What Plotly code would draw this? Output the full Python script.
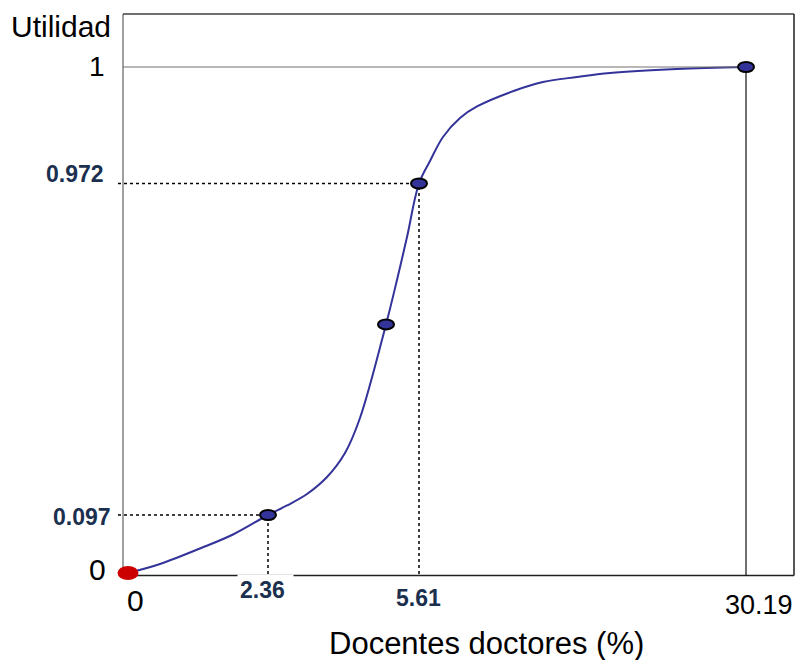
import numpy as np
import plotly.graph_objects as go

# ---------------- data ----------------
curve_x = [0, 0.539, 1.214, 1.770, 2.36, 2.769, 3.199, 3.630, 4.017, 4.340,
           4.900, 5.136, 5.352, 5.61, 6.437, 7.414, 8.692, 9.970, 12.826,
           14.93, 17.49, 19.97, 25.00, 30.19]
curve_y = [0, 0.0151, 0.0410, 0.0644, 0.097, 0.1221, 0.1524, 0.1973, 0.2607, 0.3530,
           0.600, 0.7173, 0.8308, 0.972, 0.97741, 0.98318, 0.98774, 0.99051, 0.99435,
           0.99639, 0.99760, 0.99856, 0.99952, 1.0]
point_x = [2.36, 4.90, 5.61, 30.19]
point_y = [0.097, 0.600, 0.972, 1.0]
origin_x = [0]
origin_y = [0]
guide_x = [2.36, 5.61]
guide_y = [0.097, 0.972]
x_tick_vals = [0, 2.36, 5.61, 30.19]
x_tick_text = ["0", "2.36", "5.61", "30.19"]
y_tick_vals = [0, 0.097, 0.972, 1]
y_tick_text = ["0", "0.097", "0.972", "1"]
x_title = "Docentes doctores (%)"
y_title = "Utilidad"

# ---------------- schematic (non-linear) axis scale ----------------
X_KNOT_VAL = [0, 2.36, 5.61, 30.19]
X_KNOT_POS = [0, 140, 291, 618]
Y_KNOT_VAL = [0, 0.097, 0.972, 1.0]
Y_KNOT_POS = [0, 58, 389.5, 506]
# axes cover the whole canvas (1 unit = 1 px); frame drawn inside
X_RANGE = [-128, 667]
Y_RANGE = [-87, 573]
FRAME = dict(left=-5, right=666, bottom=-2.5, top=559)


def xs(v):
    return np.interp(v, X_KNOT_VAL, X_KNOT_POS)


def ys(v):
    return np.interp(v, Y_KNOT_VAL, Y_KNOT_POS)


FONT = "Arial, 'Liberation Sans', sans-serif"
NAVY = "#1b2f4f"
BLUE = "#333399"

fig = go.Figure()
fig.add_trace(go.Scatter(x=xs(curve_x), y=ys(curve_y), mode="lines",
                         line=dict(color=BLUE, width=2, shape="spline", smoothing=1.0),
                         hoverinfo="skip", showlegend=False))

L, R, B, T = FRAME["left"], FRAME["right"], FRAME["bottom"], FRAME["top"]
shapes = []
# dotted guides
for gx, gy in zip(guide_x, guide_y):
    shapes.append(dict(type="line", xref="x", yref="y", x0=L - 5, x1=float(xs(gx)),
                       y0=float(ys(gy)), y1=float(ys(gy)),
                       line=dict(color="black", width=1.5, dash="dot")))
    shapes.append(dict(type="line", xref="x", yref="y", x0=float(xs(gx)), x1=float(xs(gx)),
                       y0=float(ys(0)) - 1, y1=float(ys(gy)),
                       line=dict(color="black", width=1.5, dash="dot")))
# frame
shapes += [
    dict(type="line", xref="x", yref="y", x0=L, x1=L, y0=B, y1=T,
         line=dict(color="#808080", width=1.5)),
    dict(type="line", xref="x", yref="y", x0=L, x1=R, y0=T, y1=T,
         line=dict(color="#404040", width=1.5)),
    dict(type="line", xref="x", yref="y", x0=R, x1=R, y0=B, y1=T,
         line=dict(color="#202020", width=1.5)),
    dict(type="line", xref="x", yref="y", x0=L, x1=R, y0=B, y1=B,
         line=dict(color="#202020", width=1.5)),
    # utility = 1 level and max-x line
    dict(type="line", xref="x", yref="y", x0=L, x1=float(xs(30.19)),
         y0=float(ys(1)), y1=float(ys(1)), line=dict(color="#707070", width=1.2)),
    dict(type="line", xref="x", yref="y", x0=float(xs(30.19)), x1=float(xs(30.19)),
         y0=B, y1=float(ys(1)), line=dict(color="#101010", width=1.2)),
]
# ellipse markers
for px, py in zip(point_x, point_y):
    shapes.append(dict(type="circle", xref="x", yref="y", xsizemode="pixel", ysizemode="pixel",
                       xanchor=float(xs(px)), yanchor=float(ys(py)),
                       x0=-8, x1=8, y0=-5, y1=5,
                       fillcolor=BLUE, line=dict(color="black", width=2)))
for px, py in zip(origin_x, origin_y):
    shapes.append(dict(type="circle", xref="x", yref="y", xsizemode="pixel", ysizemode="pixel",
                       xanchor=float(xs(px)), yanchor=float(ys(py)),
                       x0=-10.5, x1=10.5, y0=-7, y1=7,
                       fillcolor="#cc0000", line=dict(color="#cc0000", width=0)))

ann = []
# y tick labels
y_style = {
    "0": dict(x=-20, xanchor="right", yshift=4, size=30, bold=False),
    "0.097": dict(x=-46, xanchor="center", yshift=-2, size=23, bold=True),
    "0.972": dict(x=-53, xanchor="center", yshift=10, size=23, bold=True),
    "1": dict(x=-21, xanchor="right", yshift=1, size=28, bold=False),
}
for v, t in zip(y_tick_vals, y_tick_text):
    s = y_style[t]
    ann.append(dict(x=s["x"], y=float(ys(v)), xref="x", yref="y",
                    text=f"<b>{t}</b>" if s["bold"] else t,
                    showarrow=False, xanchor=s["xanchor"], yanchor="middle", yshift=s["yshift"],
                    font=dict(family=FONT, size=s["size"], color=NAVY if s["bold"] else "black")))
# x tick labels
x_style = {
    "0": dict(xshift=7, y=-27, size=30, bold=False),
    "2.36": dict(xshift=-3, y=-17, size=23, bold=True),
    "5.61": dict(xshift=-1, y=-25, size=23, bold=True),
    "30.19": dict(xshift=13, y=-32, size=27, bold=False),
}
for v, t in zip(x_tick_vals, x_tick_text):
    s = x_style[t]
    a = dict(x=float(xs(v)), y=s["y"], xref="x", yref="y",
             text=f"<b>{t}</b>" if s["bold"] else t,
             showarrow=False, xanchor="center", yanchor="middle", xshift=s["xshift"],
             font=dict(family=FONT, size=s["size"], color=NAVY if s["bold"] else "black"))
    if t == "2.36":
        a.update(bgcolor="white", width=51, align="left", borderpad=2)
    ann.append(a)
# axis titles
ann.append(dict(x=-67, y=547, xref="x", yref="y", text=y_title, showarrow=False,
                xanchor="center", yanchor="middle", font=dict(family=FONT, size=30, color="black")))
ann.append(dict(x=358, y=-70, xref="x", yref="y", text=x_title, showarrow=False,
                xanchor="center", yanchor="middle", font=dict(family=FONT, size=31, color="black")))

fig.update_layout(
    width=795, height=660, autosize=False,
    margin=dict(l=0, r=0, t=0, b=0, pad=0),
    paper_bgcolor="white", plot_bgcolor="white",
    xaxis=dict(range=X_RANGE, visible=False, fixedrange=True),
    yaxis=dict(range=Y_RANGE, visible=False, fixedrange=True),
    shapes=shapes, annotations=ann, showlegend=False,
)

post = ("document.documentElement.style.margin='0';document.body.style.margin='0';"
        "document.body.style.padding='0';document.body.style.overflow='hidden';"
        "var gd=document.getElementById('{plot_id}');"
        "Plotly.relayout(gd,{width:795,height:660});")
fig.write_html("out.html", config={"responsive": False, "displayModeBar": False}, post_script=post)
